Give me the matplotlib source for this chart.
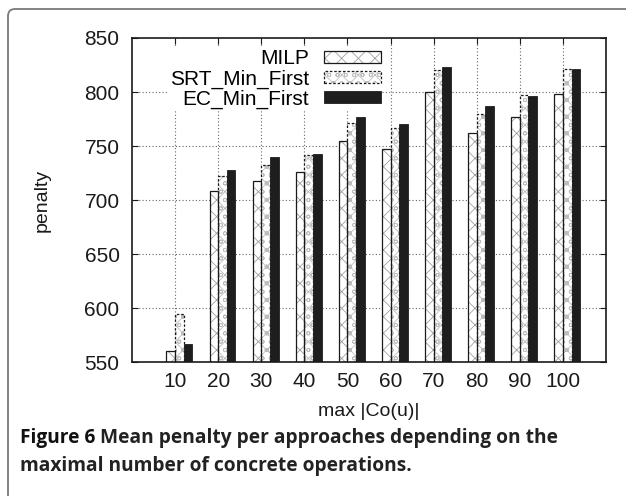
import numpy as np
import matplotlib
matplotlib.use("Agg")
import matplotlib.pyplot as plt
from matplotlib.patches import Patch, FancyBboxPatch
from matplotlib.transforms import IdentityTransform

# values
max_co = ["10", "20", "30", "40", "50", "60", "70", "80", "90", "100"]
milp = [560.5, 708, 718, 725.5, 754.5, 747.5, 800, 762, 776.5, 798]
srt_min_first = [594, 722, 732, 742, 771, 766.5, 820.5, 779.5, 797.5, 821]
ec_min_first = [567, 728, 739.5, 743, 777, 770.5, 823.5, 787.5, 796.5, 821.5]
series_names = ["MILP", "SRT_Min_First", "EC_Min_First"]
y_ticks = [550, 600, 650, 700, 750, 800, 850]

plt.rcParams["font.family"] = ["Liberation Sans", "DejaVu Sans"]
plt.rcParams["hatch.linewidth"] = 0.6

fig = plt.figure(figsize=(6.26, 4.96), dpi=100)
ax = fig.add_axes([132 / 626, 1 - 362 / 496, 474 / 626, 324 / 496])

x = np.arange(1, len(max_co) + 1)
w = 0.2
ink = "#1a1a1a"
milp_hatch = dict(facecolor="white", edgecolor="#a0a0a0", hatch="xx", linewidth=0)
srt_hatch = dict(facecolor="white", edgecolor="#bdbdbd", hatch="xxoo", linewidth=0)
milp_edge = dict(fill=False, edgecolor=ink, linewidth=0.9)
srt_edge = dict(fill=False, edgecolor=ink, linewidth=0.9, linestyle=(0, (2, 1.5)))
ec_style = dict(facecolor="#1e1e1e", edgecolor="#1e1e1e", linewidth=0.6)

# dotted grid, drawn behind everything
grid_kw = dict(linestyle=(0, (1, 2)), color="#666666", linewidth=0.8, zorder=1)
for xv in x:
    ax.axvline(xv, **grid_kw)
for yv in y_ticks[1:-1]:
    ax.axhline(yv, **grid_kw)

# MILP: white, crosshatch, solid outline
ax.bar(x - w, milp, w, align="edge", zorder=2, **milp_hatch)
ax.bar(x - w, milp, w, align="edge", zorder=3, **milp_edge)
# SRT_Min_First: light dotted pattern, dashed outline
ax.bar(x, srt_min_first, w, align="edge", zorder=2, **srt_hatch)
ax.bar(x, srt_min_first, w, align="edge", zorder=3, **srt_edge)
# EC_Min_First: solid black
ax.bar(x + w, ec_min_first, w, align="edge", zorder=3, **ec_style)

ax.set_xlim(0, len(max_co) + 1)
ax.set_ylim(550, 850)
ax.set_xticks(x)
ax.set_xticklabels(max_co)
ax.set_yticks(y_ticks)
ax.tick_params(direction="in", length=4, width=0.8, top=True, right=True,
               labelsize=15, pad=7, colors=ink)
ax.tick_params(axis="y", pad=9)
ax.xaxis.set_zorder(6)
ax.yaxis.set_zorder(6)
for s in ax.spines.values():
    s.set_linewidth(1.2)
    s.set_color(ink)
    s.set_zorder(6)

ax.set_xlabel("max |Co(u)|", fontsize=14, labelpad=9, color=ink)
ax.set_ylabel("penalty", fontsize=14, labelpad=24, color=ink)

handles = [
    (Patch(**milp_hatch), Patch(**milp_edge)),
    (Patch(**srt_hatch), Patch(**srt_edge)),
    Patch(**ec_style),
]
leg = ax.legend(handles, series_names, loc="upper right",
                bbox_to_anchor=(0.55, 1.0), markerfirst=False, fontsize=15,
                frameon=True, fancybox=False, framealpha=1, edgecolor="none",
                facecolor="white", handlelength=2.75, handleheight=0.5,
                labelspacing=0.05, borderpad=0.05, handletextpad=0.7)
leg.set_zorder(5)

# figure border (top/left with rounded corner)
fig.add_artist(FancyBboxPatch((8, -60), 800, 496 - 9 + 60,
                              boxstyle="round,pad=0,rounding_size=7",
                              transform=IdentityTransform(), fill=False,
                              edgecolor="#7a7a7a", linewidth=1.3))

# caption
cap_font = ["Open Sans", "DejaVu Sans"]
cap_size = 13.8
fig.canvas.draw()
t1 = fig.text(20 / 626, 1 - 438 / 496, "Figure 6", fontsize=cap_size,
              fontweight="bold", family=cap_font, va="center", color="#111111")
bb = t1.get_window_extent(fig.canvas.get_renderer())
fig.text((bb.x1 + 5) / 626, 1 - 438 / 496,
         "Mean penalty per approaches depending on the", fontsize=cap_size,
         fontweight="bold", family=cap_font, va="center", color="#222222")
fig.text(20 / 626, 1 - 466 / 496, "maximal number of concrete operations.",
         fontsize=cap_size, fontweight="bold", family=cap_font,
         va="center", color="#222222")

fig.savefig("out.png", dpi=100)
